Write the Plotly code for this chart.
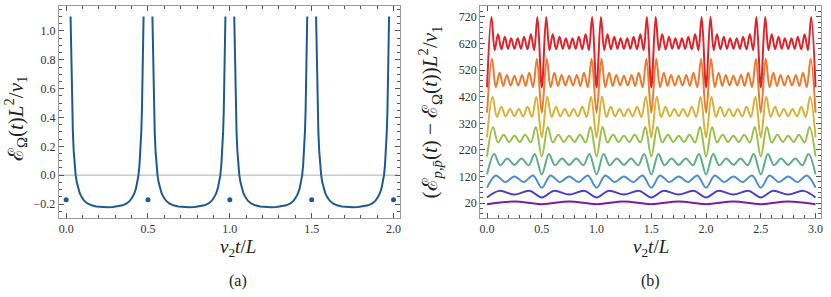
import plotly.graph_objects as go

# ---------------- Panel (a) data (one period) ----------------
a_t = [0.027, 0.029, 0.031, 0.034, 0.037, 0.041, 0.046, 0.052, 0.058, 0.065, 0.073,
       0.083, 0.095, 0.11, 0.13, 0.155, 0.185, 0.215, 0.25, 0.285, 0.315, 0.345,
       0.37, 0.39, 0.405, 0.417, 0.427, 0.435, 0.442, 0.448, 0.454, 0.459, 0.463,
       0.466, 0.469, 0.471, 0.473]
a_v = [1.10, 0.95, 0.80, 0.60, 0.45, 0.30, 0.17, 0.07, 0.0, -0.05, -0.09,
       -0.125, -0.152, -0.177, -0.196, -0.209, -0.217, -0.221, -0.222, -0.221, -0.217, -0.209,
       -0.196, -0.177, -0.152, -0.125, -0.09, -0.05, 0.0, 0.07, 0.17, 0.30, 0.45,
       0.60, 0.80, 0.95, 1.10]
a_period_starts = [0.0, 0.5, 1.0, 1.5]
dot_t = [0.0, 0.5, 1.0, 1.5, 2.0]
dot_v = [-0.17, -0.17, -0.17, -0.17, -0.17]

# ---------------- Panel (b) data: extrema within one half-period [0, 0.5] ----------------
b_period_starts = [0.0, 0.5, 1.0, 1.5, 2.0, 2.5]

purple_t = [0.0, 0.25, 0.5]
purple_v = [16, 26, 16]

indigo_t = [0.0, 0.11, 0.25, 0.39, 0.5]
indigo_v = [41, 66, 52, 66, 41]

blue_t = [0.0, 0.08, 0.165, 0.25, 0.335, 0.42, 0.5]
blue_v = [78, 124, 99, 120, 99, 124, 78]

teal_t = [0.0, 0.065, 0.12, 0.185, 0.25, 0.315, 0.38, 0.435, 0.5]
teal_v = [128, 205, 162, 188, 164, 188, 162, 205, 128]

lime_t = [0.0, 0.055, 0.10, 0.152, 0.20, 0.25, 0.30, 0.348, 0.40, 0.445, 0.5]
lime_v = [195, 306, 248, 277, 250, 273, 250, 277, 248, 306, 195]

gold_t = [0.0, 0.05, 0.09, 0.13, 0.17, 0.21, 0.25, 0.29, 0.33, 0.37, 0.41, 0.45, 0.5]
gold_v = [267, 420, 344, 382, 346, 374, 347, 374, 346, 382, 344, 420, 267]

orange_t = [0.0, 0.045, 0.08, 0.115, 0.148, 0.18, 0.215, 0.25, 0.285, 0.32, 0.352,
            0.385, 0.42, 0.455, 0.5]
orange_v = [360, 563, 456, 510, 460, 502, 462, 499, 462, 502, 460, 510, 456, 563, 360]

red_t = [0.0, 0.04, 0.07, 0.10, 0.131, 0.162, 0.191, 0.22, 0.25, 0.28, 0.309, 0.338,
         0.369, 0.40, 0.43, 0.46, 0.5]
red_v = [455, 720, 595, 655, 598, 645, 600, 640, 600, 640, 600, 645, 598, 655, 595, 720, 455]

b_series = [
    ("purple", purple_t, purple_v, "#7b1d9c"),
    ("indigo", indigo_t, indigo_v, "#4a3dcc"),
    ("blue", blue_t, blue_v, "#4a8fd0"),
    ("teal", teal_t, teal_v, "#5eae8a"),
    ("lime", lime_t, lime_v, "#9ac04c"),
    ("gold", gold_t, gold_v, "#d8b236"),
    ("orange", orange_t, orange_v, "#ec7b30"),
    ("red", red_t, red_v, "#e0232b"),
]

a_xticks = [0.0, 0.5, 1.0, 1.5, 2.0]
a_yticks = [-0.2, 0.0, 0.2, 0.4, 0.6, 0.8, 1.0]
b_xticks = [0.0, 0.5, 1.0, 1.5, 2.0, 2.5, 3.0]
b_yticks = [20, 120, 220, 320, 420, 520, 620, 720]

W, H = 831, 297
FONT = "Liberation Serif, DejaVu Serif, Times New Roman, serif"

fig = go.Figure()

# Panel (a) curve: periods separated by gaps (curve diverges between them)
ax, av = [], []
for s in a_period_starts:
    ax += [s + t for t in a_t] + [None]
    av += a_v + [None]
fig.add_trace(go.Scatter(x=ax, y=av, mode="lines", line=dict(color="#1f5a8e", width=2),
                         xaxis="x", yaxis="y", showlegend=False, connectgaps=False))
fig.add_trace(go.Scatter(x=dot_t, y=dot_v, mode="markers",
                         marker=dict(color="#1f5a8e", size=5), xaxis="x", yaxis="y",
                         showlegend=False))

# Panel (b) curves, one half-period repeated along the axis as in the picture
for name, ts, vs, col in b_series:
    bx, bv = [], []
    for i, s in enumerate(b_period_starts):
        n = len(ts) if i == len(b_period_starts) - 1 else len(ts) - 1
        bx += [s + t for t in ts[:n]]
        bv += vs[:n]
    fig.add_trace(go.Scatter(x=bx, y=bv, mode="lines",
                             line=dict(color=col, width=2, shape="spline", smoothing=1.0),
                             xaxis="x2", yaxis="y2", showlegend=False))

# zero line in panel (a)
fig.add_shape(type="line", xref="x domain", yref="y", x0=0, x1=1, y0=0, y1=0,
              line=dict(color="#b0b0b0", width=1), layer="below")

def axis_style(**kw):
    d = dict(showline=True, linecolor="#9a9a9a", linewidth=1, mirror="ticks",
             ticks="inside", ticklen=5, tickwidth=1, tickcolor="#555555",
             showgrid=False, zeroline=False,
             tickfont=dict(family=FONT, size=12, color="#333333"))
    d.update(kw)
    return d

y_dom = [79 / H, 291 / H]
fig.update_layout(
    width=W, height=H, autosize=False,
    margin=dict(l=0, r=0, t=0, b=0),
    paper_bgcolor="white", plot_bgcolor="white",
    font=dict(family=FONT),
    xaxis=axis_style(domain=[58 / W, 400 / W], range=[-0.045, 2.037],
                     tickvals=a_xticks, tickformat=".1f", anchor="y",
                     minor=dict(ticks="inside", ticklen=3, tickcolor="#555555", dtick=0.1)),
    yaxis=axis_style(domain=y_dom, range=[-0.297, 1.173], tickvals=a_yticks,
                     tickformat=".1f", anchor="x",
                     minor=dict(ticks="inside", ticklen=3, tickcolor="#555555", dtick=0.05)),
    xaxis2=axis_style(domain=[481 / W, 823 / W], range=[-0.062, 3.05],
                      tickvals=b_xticks, tickformat=".1f", anchor="y2",
                      minor=dict(ticks="inside", ticklen=3, tickcolor="#555555", dtick=0.1)),
    yaxis2=axis_style(domain=y_dom, range=[-36, 761], tickvals=b_yticks, anchor="x2",
                      minor=dict(ticks="inside", ticklen=3, tickcolor="#555555", dtick=20)),
)

tfont = dict(family=FONT, size=19, color="#222222")
ann = [
    dict(x=238 / W, y=(H - 248) / H, text="<i>v</i><sub>2</sub><i>t</i>/<i>L</i>", font=tfont),
    dict(x=652 / W, y=(H - 248) / H, text="<i>v</i><sub>2</sub><i>t</i>/<i>L</i>", font=tfont),
    dict(x=238 / W, y=(H - 281) / H, text="(a)", font=dict(family=FONT, size=16, color="#222222")),
    dict(x=652 / W, y=(H - 281) / H, text="(b)", font=dict(family=FONT, size=16, color="#222222")),
    dict(x=15 / W, y=(H - 118) / H, textangle=-90, font=dict(family=FONT, size=21, color="#222222"),
         text="ℰ<sub>Ω</sub>(<i>t</i>)<i>L</i><sup>2</sup>/<i>v</i><sub>1</sub>"),
    dict(x=431 / W, y=(H - 112) / H, textangle=-90, font=dict(family=FONT, size=21, color="#222222"),
         text="(ℰ<sub><i>p</i>,<i>p̄</i></sub>(<i>t</i>) − ℰ<sub>Ω</sub>(<i>t</i>))<i>L</i><sup>2</sup>/<i>v</i><sub>1</sub>"),
]
for a in ann:
    a.update(xref="paper", yref="paper", showarrow=False, xanchor="center", yanchor="middle")
fig.update_layout(annotations=ann)

fig.write_html("out.html", config={"displayModeBar": False},
               post_script="document.body.style.margin='0';document.body.style.overflow='hidden';")
